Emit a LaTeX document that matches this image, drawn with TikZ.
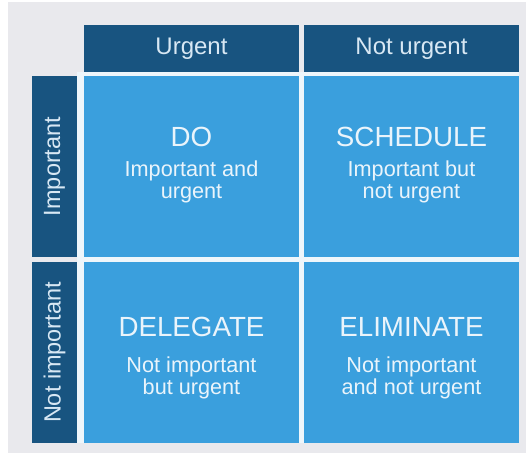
\documentclass[tikz,border=0pt]{standalone}
\usepackage{fontspec}
\setmainfont{Liberation Sans}
\usetikzlibrary{positioning}
\definecolor{navy}{HTML}{185480}
\definecolor{quadblue}{HTML}{3A9FDD}
\definecolor{pagebg}{HTML}{E9E9ED}
\definecolor{gapbg}{HTML}{EEF6FB}
\definecolor{headtext}{HTML}{D8E8F4}
\definecolor{quadtext}{HTML}{EAF4FB}
\begin{document}
\begin{tikzpicture}[x=0.75pt,y=-0.75pt,
  head/.style={fill=navy,text=headtext,inner sep=0pt,
    minimum width=161.25pt,minimum height=35.25pt,font=\fontsize{18}{20}\selectfont},
  side/.style={fill=navy,text=headtext,inner sep=0pt,rotate=90,
    minimum width=135.75pt,minimum height=33.75pt,font=\fontsize{17.6}{20}\selectfont},
  cell/.style={fill=quadblue,inner sep=0pt,minimum width=161.25pt,minimum height=135.75pt},
  ttl/.style={text=quadtext,anchor=base,inner sep=0pt,font=\fontsize{20.8}{24}\selectfont},
  dsc/.style={text=quadtext,anchor=base,align=center,inner sep=0pt,font=\fontsize{16.25}{16.5}\selectfont}]
  \useasboundingbox (0,0) rectangle (530,455);
  % page and backing
  \fill[white] (0,0) rectangle (530,455);
  \fill[pagebg] (8,2) rectangle (526,453);
  \fill[gapbg] (77,72) rectangle (519,443);
  % headers
  \node[head] (hurg) at (191.5,48.5) {Urgent};
  \node[head] (hnot) at (411.5,48.5) {Not urgent};
  \node[side] (simp) at (54.5,166.5) {Important};
  \node[side] (snot) at (54.5,352.5) {Not important};
  % quadrants
  \foreach \nm/\cx/\cy/\up/\dn/\tt/\ds in {
      qdo/191.5/166.5/20/31.5/DO/{Important and\\urgent},
      qsch/411.5/166.5/20/31.5/SCHEDULE/{Important but\\not urgent},
      qdel/191.5/352.5/16/41.5/DELEGATE/{Not important\\but urgent},
      qeli/411.5/352.5/16/41.5/ELIMINATE/{Not important\\and not urgent}} {
    \node[cell] (\nm) at (\cx,\cy) {};
    \node[ttl] (\nm-t) at ([yshift={\up*0.75pt}]\nm.center) {\tt};
    \node[dsc] (\nm-d) at ([yshift={-\dn*0.75pt}]\nm.center) {\ds};
  }
\end{tikzpicture}
\end{document}
